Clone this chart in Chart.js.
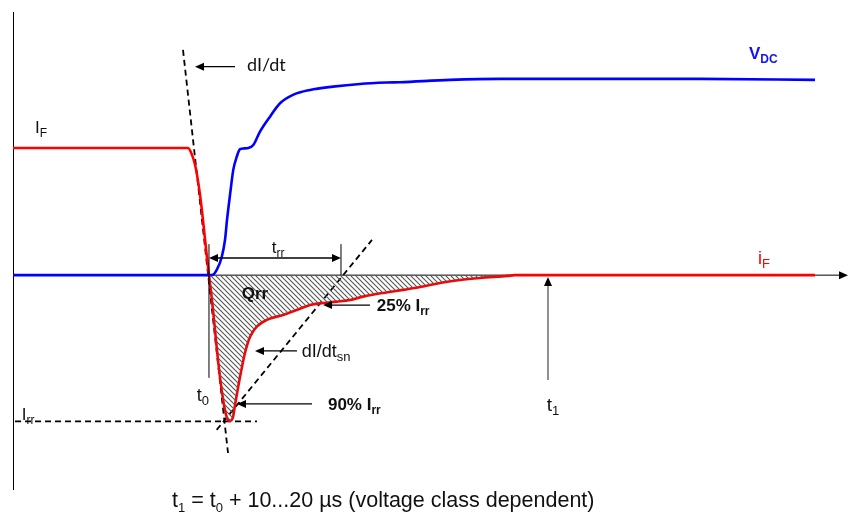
<!DOCTYPE html>
<html>
<head>
<meta charset="utf-8">
<script src="https://cdn.jsdelivr.net/npm/chart.js@4.4.1/dist/chart.umd.min.js"></script>
<style>
  html, body { margin: 0; padding: 0; background: #fff; }
  #wrap { position: relative; width: 848px; height: 515px; }
  #caption { position: absolute; left: 172px; top: 488px; font: 21.5px "Liberation Sans", Arial, sans-serif; line-height: 24px; color: #111; white-space: nowrap; }
  #caption sub { font-size: 13px; line-height: 0; }
</style>
</head>
<body>
<div id="wrap">
  <canvas id="recoveryChart" width="848" height="515"></canvas>
  <div id="caption">t<sub>1</sub> = t<sub>0</sub> + 10...20 µs (voltage class dependent)</div>
</div>
<script>
// time in arbitrary units, current and voltage normalised (IF = 1)
const ifTime = [0, 20.96, 21.44, 21.80, 22.04, 22.40, 22.75, 23.17, 23.47, 23.83, 24.19, 24.55, 24.91, 25.27, 25.63, 25.99, 26.35, 26.59, 27.19, 27.78, 28.38, 29.19, 30.38, 32.34, 33.98, 35.57, 37.13, 38.77, 40.36, 41.92, 44.31, 46.71, 49.10, 51.14, 53.53, 55.93, 59.16, 60.12, 96.05];
const ifCurrent = [1.0, 1.0, 0.946, 0.868, 0.789, 0.631, 0.435, 0.175, 0.0, -0.195, -0.431, -0.667, -0.863, -1.021, -1.123, -1.147, -1.116, -1.021, -0.80, -0.612, -0.486, -0.405, -0.352, -0.313, -0.274, -0.234, -0.219, -0.208, -0.195, -0.169, -0.140, -0.116, -0.090, -0.061, -0.038, -0.022, -0.006, 0.0, 0.0];

const vdcTime = [0, 23.83, 24.40, 25.00, 25.39, 25.63, 25.99, 26.38, 26.79, 27.19, 27.66, 28.18, 28.78, 29.58, 30.78, 31.98, 33.53, 35.57, 38.32, 41.56, 44.75, 46.35, 52.34, 58.32, 70.30, 82.28, 96.05];
const vdcLevel = [0, 0, 0.041, 0.143, 0.277, 0.434, 0.631, 0.828, 0.930, 0.991, 0.997, 1.0, 1.024, 1.129, 1.247, 1.352, 1.418, 1.457, 1.483, 1.504, 1.515, 1.518, 1.536, 1.544, 1.544, 1.544, 1.536];

// dashed construction lines
const didtLineT = [20.36, 25.75];
const didtLineV = [1.772, -1.399];
const snapLineT = [24.39, 42.99];
const snapLineV = [-1.217, 0.277];
const irrLineT = [0.24, 29.22];
const irrLevel = -1.15;

// time markers
const t0 = 23.47;
const trrEnd = 39.28;
const t1 = 64.07;
const qrrEnd = 60.12;

function zip(ts, vs) {
    return ts.map((t, i) => ({ x: t, y: vs[i] }));
}

// hatch pattern for the Qrr area
function makeHatch() {
    const s = 5;
    const c = document.createElement('canvas');
    c.width = s;
    c.height = s;
    const g = c.getContext('2d');
    g.strokeStyle = '#555';
    g.lineWidth = 1.1;
    g.beginPath();
    g.moveTo(-1, -1); g.lineTo(s + 1, s + 1);
    g.moveTo(-1, s - 1); g.lineTo(1, s + 1);
    g.moveTo(s - 1, -1); g.lineTo(s + 1, 1);
    g.stroke();
    return g.createPattern(c, 'repeat');
}

const qrrPoints = zip(ifTime, ifCurrent).filter(p => p.x >= t0 && p.x <= qrrEnd);

// text labels: anchor (t, v) = left end of baseline
const labels = [
    { t: 2.63, v: 1.117, parts: [['I'], ['F', 1]], size: 17, bold: false, color: '#111' },
    { t: 28.02, v: 1.606, parts: [['dI/dt']], size: 18, bold: false, color: '#111', family: 'Lato' },
    { t: 88.14, v: 1.70, parts: [['V'], ['DC', 1]], size: 17, bold: true, color: '#1010ff' },
    { t: 89.22, v: 0.088, parts: [['i'], ['F', 1]], size: 18, bold: false, color: '#ff0000' },
    { t: 30.98, v: 0.175, parts: [['t'], ['rr', 1]], size: 17, bold: false, color: '#111' },
    { t: 27.39, v: -0.187, parts: [['Qrr']], size: 17, bold: true, color: '#111' },
    { t: 43.56, v: -0.281, parts: [['25% I'], ['rr', 1]], size: 17, bold: true, color: '#111' },
    { t: 34.57, v: -0.643, parts: [['dI/dt'], ['sn', 1]], size: 18, bold: false, color: '#111' },
    { t: 37.72, v: -1.06, parts: [['90% I'], ['rr', 1]], size: 17, bold: true, color: '#111' },
    { t: 22.0, v: -0.99, parts: [['t'], ['0', 1]], size: 18, bold: false, color: '#111' },
    { t: 63.92, v: -1.07, parts: [['t'], ['1', 1]], size: 19, bold: false, color: '#111' },
    { t: 1.04, v: -1.139, parts: [['I'], ['rr', 1]], size: 17, bold: false, color: '#111' }
];

// pointer arrows: from (t, v) to tip (t, v)
const arrows = [
    { from: [26.59, 1.64], to: [21.80, 1.64] },
    { from: [42.75, -0.235], to: [37.13, -0.235] },
    { from: [34.01, -0.596], to: [28.98, -0.596] },
    { from: [35.81, -1.013], to: [26.83, -1.013] },
    { from: [t1, -0.824], to: [t1, -0.014], color: '#555' }
];

function arrowHead(ctx, x1, y1, x2, y2) {
    const a = Math.atan2(y2 - y1, x2 - x1);
    const len = 9, w = 4;
    ctx.beginPath();
    ctx.moveTo(x2, y2);
    ctx.lineTo(x2 - len * Math.cos(a) + w * Math.sin(a), y2 - len * Math.sin(a) - w * Math.cos(a));
    ctx.lineTo(x2 - len * Math.cos(a) - w * Math.sin(a), y2 - len * Math.sin(a) + w * Math.cos(a));
    ctx.closePath();
    ctx.fill();
}

function drawArrow(ctx, x1, y1, x2, y2, color) {
    ctx.strokeStyle = color;
    ctx.fillStyle = '#000';
    ctx.lineWidth = 1.3;
    const a = Math.atan2(y2 - y1, x2 - x1);
    ctx.beginPath();
    ctx.moveTo(x1, y1);
    ctx.lineTo(x2 - 6 * Math.cos(a), y2 - 6 * Math.sin(a));
    ctx.stroke();
    arrowHead(ctx, x1, y1, x2, y2);
}

function drawRich(ctx, x, y, item) {
    const fam = (item.family ? '"' + item.family + '", ' : '') + '"Liberation Sans", Arial, sans-serif';
    const wt = item.bold ? 'bold ' : '';
    ctx.fillStyle = item.color;
    ctx.textBaseline = 'alphabetic';
    ctx.textAlign = 'left';
    item.parts.forEach(([txt, sub]) => {
        const size = sub ? Math.round(item.size * 0.7) : item.size;
        ctx.font = wt + size + 'px ' + fam;
        ctx.fillText(txt, x, sub ? y + 4 : y);
        x += ctx.measureText(txt).width;
    });
}

const overlay = {
    id: 'overlay',
    beforeDatasetsDraw(chart) {
        const ctx = chart.ctx;
        const ys = chart.scales.y;
        const area = chart.chartArea;
        const y0 = ys.getPixelForValue(0);
        ctx.save();
        ctx.strokeStyle = '#000';
        ctx.fillStyle = '#000';
        ctx.lineWidth = 1;
        ctx.beginPath();
        ctx.moveTo(area.left + 0.5, area.top);
        ctx.lineTo(area.left + 0.5, area.bottom);
        ctx.stroke();
        ctx.beginPath();
        ctx.moveTo(area.left, y0);
        ctx.lineTo(area.right - 4, y0);
        ctx.stroke();
        arrowHead(ctx, area.left, y0, area.right, y0);
        ctx.restore();
    },
    afterDatasetsDraw(chart) {
        const ctx = chart.ctx;
        const xs = chart.scales.x, ys = chart.scales.y;
        const px = t => xs.getPixelForValue(t);
        const py = v => ys.getPixelForValue(v);
        ctx.save();
        // t0 marker and trr span
        ctx.strokeStyle = '#000';
        ctx.lineWidth = 1;
        ctx.beginPath();
        ctx.moveTo(px(t0), py(0.244));
        ctx.lineTo(px(t0), py(-0.808));
        ctx.moveTo(px(trrEnd), py(0.244));
        ctx.lineTo(px(trrEnd), py(0));
        ctx.stroke();
        drawArrow(ctx, px((t0 + trrEnd) / 2), py(0.135), px(t0), py(0.135), '#000');
        drawArrow(ctx, px((t0 + trrEnd) / 2), py(0.135), px(trrEnd), py(0.135), '#000');
        arrows.forEach(a => drawArrow(ctx, px(a.from[0]), py(a.from[1]), px(a.to[0]), py(a.to[1]), a.color || '#000'));
        labels.forEach(l => drawRich(ctx, px(l.t), py(l.v), l));
        ctx.restore();
    }
};

const dashed = { borderColor: '#000', borderWidth: 1.8, borderDash: [6, 4], pointRadius: 0, tension: 0, fill: false, showLine: true };

const ctx = document.getElementById('recoveryChart').getContext('2d');
const recoveryChart = new Chart(ctx, {
    type: 'scatter',
    data: {
        datasets: [
            {
                label: 'Qrr',
                data: qrrPoints,
                showLine: true,
                borderWidth: 0,
                borderColor: 'rgba(0,0,0,0)',
                backgroundColor: makeHatch(),
                fill: 'origin',
                pointRadius: 0,
                cubicInterpolationMode: 'monotone'
            },
            {
                label: 'VDC',
                data: zip(vdcTime, vdcLevel),
                showLine: true,
                borderColor: '#0000ff',
                borderWidth: 2.6,
                pointRadius: 0,
                cubicInterpolationMode: 'monotone'
            },
            {
                label: 'iF',
                data: zip(ifTime, ifCurrent),
                showLine: true,
                borderColor: '#ff0000',
                borderWidth: 2.6,
                pointRadius: 0,
                cubicInterpolationMode: 'monotone'
            },
            Object.assign({ label: 'dI/dt', data: zip(didtLineT, didtLineV) }, dashed),
            Object.assign({ label: 'dI/dt sn', data: zip(snapLineT, snapLineV) }, dashed),
            Object.assign({ label: 'Irr', data: zip(irrLineT, [irrLevel, irrLevel]) }, dashed)
        ]
    },
    options: {
        responsive: false,
        animation: false,
        devicePixelRatio: 1,
        layout: { padding: { left: 13, right: 0, top: 12, bottom: 25 } },
        scales: {
            x: { type: 'linear', min: 0, max: 100, display: false },
            y: { type: 'linear', min: -1.69, max: 2.07, display: false }
        },
        plugins: {
            legend: { display: false },
            tooltip: { enabled: false }
        }
    },
    plugins: [overlay]
});
</script>
</body>
</html>
